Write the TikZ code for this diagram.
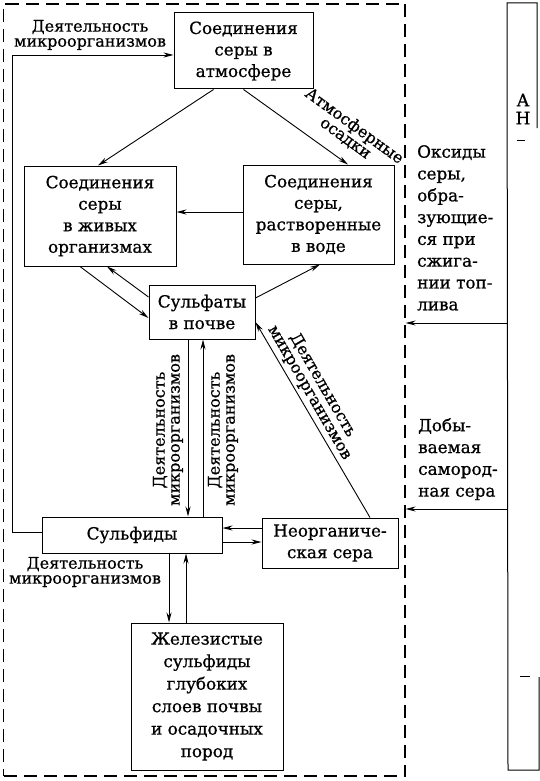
\documentclass[tikz,border=0pt]{standalone}
\usepackage{fontspec}
\setmainfont{DejaVu Serif}[FakeBold=0.8]
\usetikzlibrary{arrows.meta,calc}
\begin{document}
\begin{tikzpicture}[x=1pt,y=-1pt,
  box/.style={draw,line width=1pt,inner sep=0pt,align=center,font=\fontsize{16.8}{21.5}\selectfont},
  arr/.style={line width=0.9pt,-{Stealth[length=10pt,width=5pt]}},
  lbl/.style={align=center,inner sep=0pt,font=\fontsize{16}{15}\selectfont},
  side/.style={align=left,inner sep=0pt,anchor=north west,font=\fontsize{16.8}{21.8}\selectfont},
  frm/.style={draw,line width=1.2pt,dash pattern=on 13pt off 7pt,inner sep=0pt},
  strip/.style={line width=1pt}
]
\useasboundingbox (0,0) rectangle (540,781);

% dashed frame
\node[frm,minimum width=401.5pt,minimum height=772pt] (frame) at (204.25,390) {};

% boxes
\node[box,minimum width=139pt,minimum height=76pt] (atm) at (243.5,51) {Соединения\\серы в\\атмосфере};
\node[box,minimum width=152pt,minimum height=100pt] (living) at (100,216) {Соединения\\серы\\в живых\\организмах};
\node[box,minimum width=151pt,minimum height=99pt] (water) at (318.5,214.5) {Соединения\\серы,\\растворенные\\в воде};
\node[box,minimum width=106pt,minimum height=54pt] (sulfates) at (202,312) {Сульфаты\\в почве};
\node[box,minimum width=180pt,minimum height=36pt] (sulfides) at (132,535) {Сульфиды};
\node[box,minimum width=136pt,minimum height=50pt] (inorg) at (330,543) {Неорганиче-\\ская сера};
\node[box,minimum width=152pt,minimum height=147pt,font=\fontsize{16.8}{22.5}\selectfont] (iron) at (207,696.5) {Железистые\\сульфиды\\глубоких\\слоев почвы\\и осадочных\\пород};

% connectors
\draw[arr] ([xshift=40pt]atm.south west) -- ([xshift=-2pt]living.north);
\draw[arr] (atm.south) -- ([xshift=29.5pt]water.north);
\draw[arr] ([yshift=2.5pt]water.west) -- ([yshift=2.5pt]water.west -| living.east);
\draw[arr] ([xshift=-20pt]living.south) -- ([yshift=-6pt]sulfates.west);
\draw[arr] ([yshift=15pt]sulfates.west) -- ([xshift=7pt]living.south);
\draw[arr] ([yshift=14pt]sulfates.east) -- ([xshift=1.5pt]water.south);
\draw[arr] ([xshift=-14pt]sulfates.south) -- ([xshift=-14pt]sulfates.south |- sulfides.north);
\draw[arr] ([xshift=1pt]sulfates.south |- sulfides.north) -- ([xshift=1pt]sulfates.south);
\draw[arr] ([yshift=15pt]inorg.west) -- ([yshift=15pt]inorg.west -| sulfides.east);
\draw[arr] ([yshift=1pt]inorg.west -| sulfides.east) -- ([yshift=1pt]inorg.west);
\draw[arr] ([xshift=40pt]inorg.north) -- ([yshift=-10pt]sulfates.east);
\draw[arr] ([xshift=37pt]sulfides.south) -- ([xshift=37pt]sulfides.south |- iron.north);
\draw[arr] ([xshift=54pt]sulfides.south |- iron.north) -- ([xshift=54pt]sulfides.south);
\draw[arr] ([yshift=3pt]sulfides.west) -- ++(-29,0) |- ([yshift=-4pt]atm.west);

% labels
\node[lbl] (l1) at (90,35) {Деятельность\\микроорганизмов};
\node[lbl,rotate=-36] (l2) at (350,132) {Атмосферные\\осадки};
\node[lbl,rotate=90] (l3) at (168,430) {Деятельность\\микроорганизмов};
\node[lbl,rotate=90] (l4) at (223,430) {Деятельность\\микроорганизмов};
\node[lbl,rotate=-60] (l5) at (316,389) {Деятельность\\микроорганизмов};
\node[lbl] (l6) at (85,572) {Деятельность\\микроорганизмов};

% right side texts
\node[side] (oxides) at (417,145) {Оксиды\\серы,\\обра-\\зующие-\\ся при\\сжига-\\нии топ-\\лива};
\node[side] (native) at (418,418) {Добы-\\ваемая\\самород-\\ная сера};

% right strip (cut-off neighbouring figure)
\coordinate (s1) at (507,3);
\coordinate (s2) at (537,3);
\coordinate (s3) at (537,128);
\coordinate (s4) at (508,770);
\coordinate (s5) at (539,770);
\coordinate (s6) at (539,677);
\draw[strip] (s3) -- (s2) -- (s1) -- (s4) -- (s5) -- (s6);
\draw[line width=0.8pt] (517,140) -- (525,140);
\draw[line width=0.8pt] (520,676) -- (530,676);
\node[font=\fontsize{17}{17}\selectfont,inner sep=0pt] (la) at (523,100) {А};
\node[font=\fontsize{17}{17}\selectfont,inner sep=0pt] (ln) at (523,118) {Н};

% inflow arrows
\coordinate (oxsrc) at (507,323);
\coordinate (natsrc) at (507,509);
\draw[arr] (oxsrc) -- (oxsrc -| frame.east);
\draw[arr] (natsrc) -- (natsrc -| frame.east);
\end{tikzpicture}
\end{document}
